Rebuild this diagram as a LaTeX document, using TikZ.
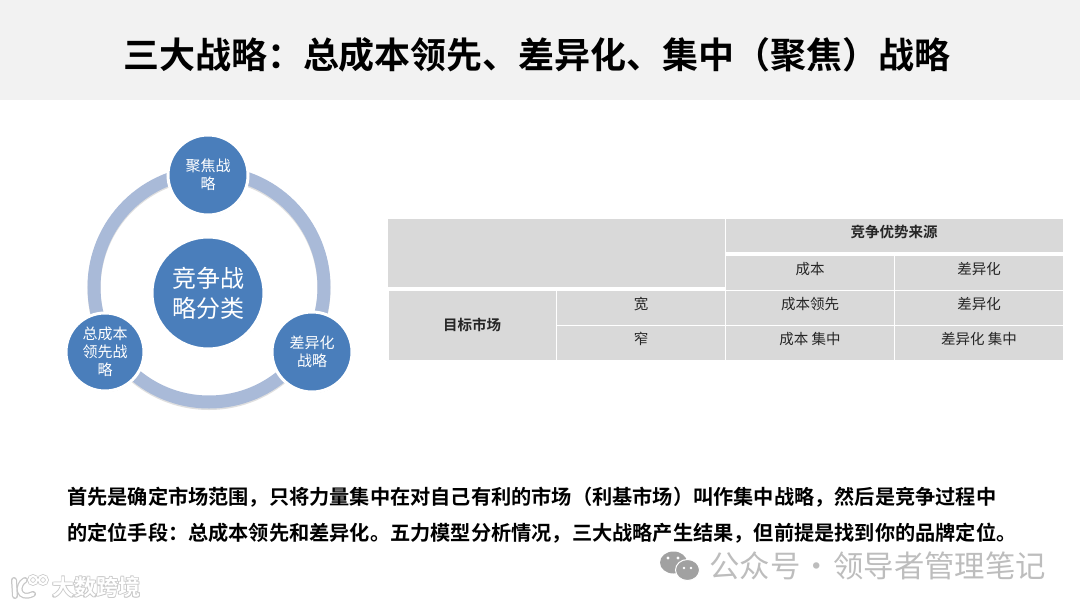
\documentclass[tikz,border=0pt]{standalone}
\usepackage{xcolor}
\usepackage{fontspec}
\setmainfont{Noto Sans CJK SC}[BoldFont={Noto Sans CJK SC Bold}]
\usepackage{tikz}
\usetikzlibrary{positioning, shadows}
\definecolor{BandGray}{HTML}{F2F2F2}
\definecolor{CellGray}{HTML}{D9D9D9}
\definecolor{DiscBlue}{HTML}{4A7EBB}
\definecolor{RingBlue}{HTML}{A9BAD8}
\definecolor{MarkGray}{HTML}{BDBDBD}
\newcommand{\fwcolon}{^^^^ff1a}
\newcommand{\fwcomma}{^^^^ff0c}
\newcommand{\fwopen}{^^^^ff08}
\newcommand{\fwclose}{^^^^ff09}

\begin{document}
\begin{tikzpicture}[
            x=1pt, y=-1pt,
            disc/.style={circle, draw=white, line width=3pt, fill=DiscBlue, text=white, align=center, inner sep=0pt, font=\fontsize{15}{18}\selectfont, drop shadow={shadow xshift=0.5pt, shadow yshift=-1pt, opacity=0.3, fill=black!60}},
            cell/.style={fill=CellGray, inner sep=0pt, font=\fontsize{14.5}{16}\selectfont, text=black!85, text height=8.5pt, text depth=5.5pt},
            celltop/.style={cell, minimum width=337pt, minimum height=33pt},
            cellwide/.style={cell, minimum width=168pt, minimum height=34pt}
        ]
            \useasboundingbox (0,0) rectangle (1080,608);
            
            \node[fill=BandGray, minimum width=1080pt, minimum height=100pt, inner sep=0pt] at (540,50) (band) {};
            \node[font=\fontsize{36}{40}\selectfont\bfseries] at (537,55) (title) {三大战略\fwcolon{}总成本领先、差异化、集中\fwopen{}聚焦\fwclose{}战略};
            
            \coordinate (ringc) at (209,287);
            \draw[black!25, line width=13pt, opacity=0.5] ([yshift=-1.5pt]ringc) circle[radius=115];
            \draw[RingBlue, line width=13pt] (ringc) circle[radius=115];
            
            \node[disc, minimum size=112pt, font=\fontsize{24}{30}\selectfont] at (208,293) (classdisc) {竞争战\\略分类};
            \node[disc, minimum size=80pt] at (208,175) (focusdisc) {聚焦战\\略};
            \node[disc, minimum size=78pt] at (105,352) (costdisc) {总成本\\领先战\\略};
            \node[disc, minimum size=80pt] at (312,352) (diffdisc) {差异化\\战略};
            
            \node[fill=CellGray, minimum width=337pt, minimum height=68pt, inner sep=0pt] at (556.5,253) (blankcell) {};
            \node[celltop, minimum height=33pt] at (894,235.5) (sourcecell) {\textbf{竞争优势来源}};
            \node[cellwide] at (810,273) (costhead) {成本};
            \node[cellwide] at (979,273) (diffhead) {差异化};
            \node[cell, minimum width=167pt, minimum height=69pt, text height=12.3pt, text depth=1.7pt] at (472,325.5) (marketcell) {\textbf{目标市场}};
            \node[cellwide] at (641,308) (widecell) {宽};
            \node[cellwide] at (641,342.5) (narrowcell) {窄};
            \node[cellwide] at (810,308) (leadcell) {成本领先};
            \node[cellwide] at (979,308) (diffcell) {差异化};
            \node[cellwide] at (810,342.5) (costfocus) {成本 集中};
            \node[cellwide] at (979,342.5) (difffocus) {差异化 集中};
            
            \node[anchor=west, align=left, inner sep=0pt, font=\fontsize{20.2}{36}\selectfont\bfseries] at (67,515) (bodytext) {首先是确定市场范围\fwcomma{}只将力量集中在对自己有利的市场\fwopen{}利基市场\fwclose{}叫作集中战略\fwcomma{}然后是竞争过程中\\的定位手段\fwcolon{}总成本领先和差异化。五力模型分析情况\fwcomma{}三大战略产生结果\fwcomma{}但前提是找到你的品牌定位。};
            
            \fill[MarkGray!85!black] (673.5,562.5) ellipse[x radius=13.5, y radius=11];
            \draw[white, line width=1pt, fill=MarkGray!85!black] (687.5,570) ellipse[x radius=12, y radius=10.5];
            \fill[white] (668,558) circle[radius=1.7] (678,558) circle[radius=1.7] (684,568) circle[radius=1.4] (691,568) circle[radius=1.4];
            \node[anchor=west, inner sep=0pt, text=MarkGray, font=\fontsize{30.4}{32}\selectfont] at (709,566) (wechatmark) {公众号\makebox[33pt]{·}领导者管理笔记};
            
            \foreach \dx/\dy in {-1/0, 1/0, 0/-1, 0/1, 1/1, -1/-1, 1/-1, -1/1} {
                \node[anchor=west, inner sep=0pt, text=black!22, font=\fontsize{22}{24}\selectfont] at (52+\dx,587+\dy) {大数跨境};
            }
            \node[anchor=west, inner sep=0pt, text=white, font=\fontsize{22}{24}\selectfont\bfseries] at (52,587) (logotext) {大数跨境};
            \foreach \linew/\linec in {6/black!22, 3.5/white} {
                \draw[\linec, line width=\linew pt, line cap=round] (14,580) -- (15,596);
                \draw[\linec, line width=\linew pt, line cap=round] (25,580) .. controls (16,585) and (18,601) .. (33,594);
                \draw[\linec, line width=\linew pt * 0.6] (33,580) circle[radius=4];
                \draw[\linec, line width=\linew pt * 0.6] (43,580) circle[radius=4];
            }
        \end{tikzpicture}
\end{document}
